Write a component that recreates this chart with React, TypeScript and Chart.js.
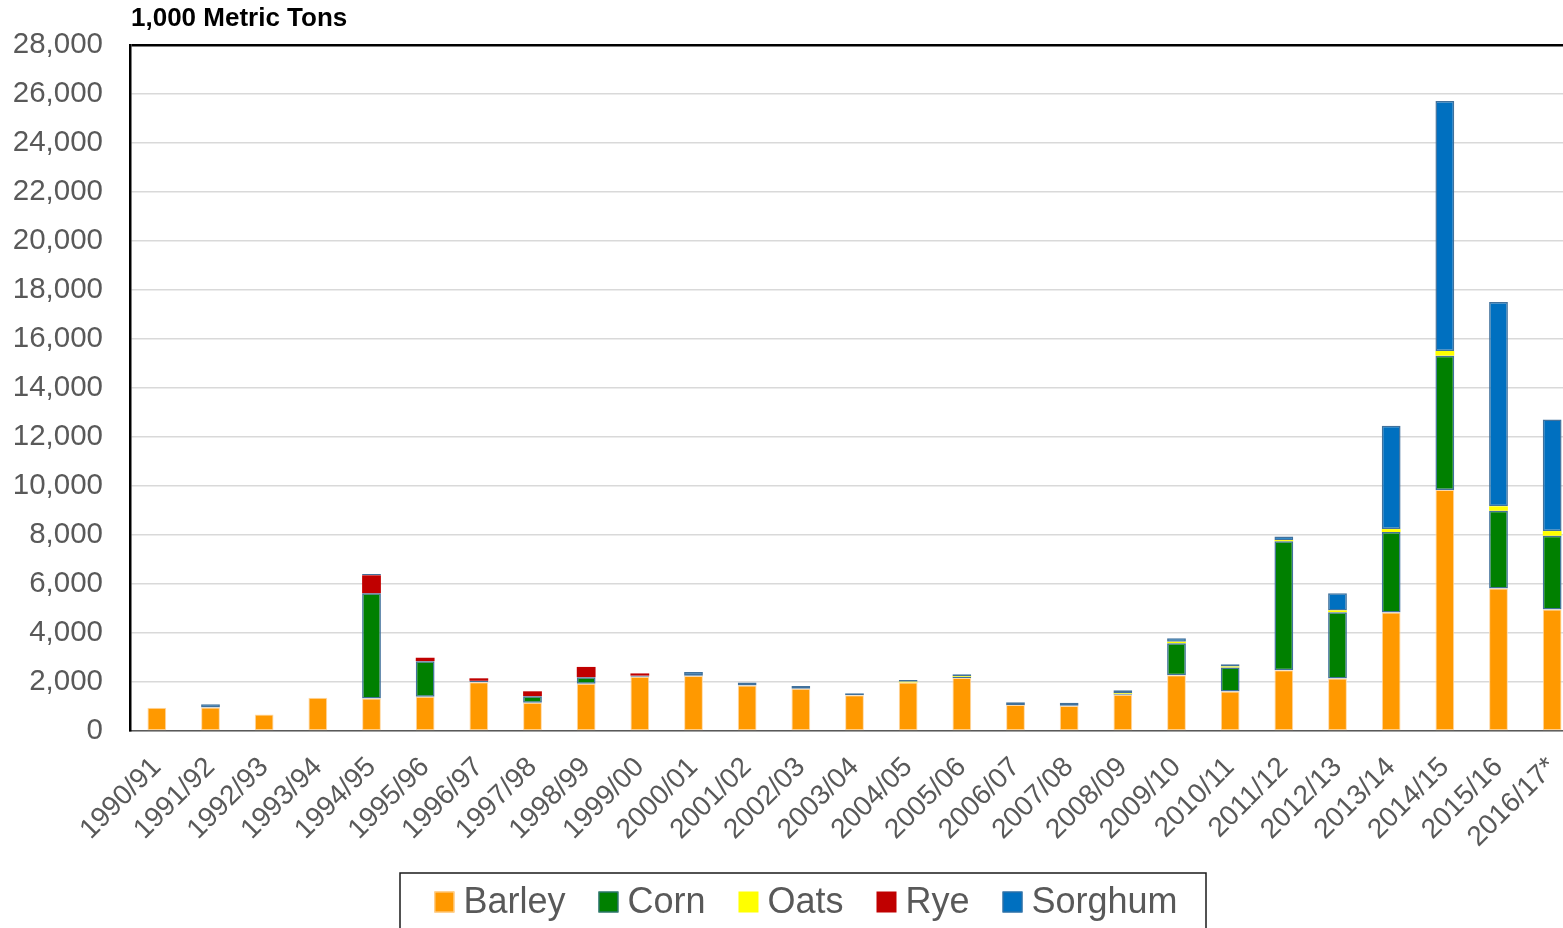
import { useEffect, useRef } from "react";
import { Chart, registerables } from "chart.js";

Chart.register(...registerables);

// Marketing years on the category axis
const seasons = [
  "1990/91", "1991/92", "1992/93", "1993/94", "1994/95", "1995/96", "1996/97",
  "1997/98", "1998/99", "1999/00", "2000/01", "2001/02", "2002/03", "2003/04",
  "2004/05", "2005/06", "2006/07", "2007/08", "2008/09", "2009/10", "2010/11",
  "2011/12", "2012/13", "2013/14", "2014/15", "2015/16", "2016/17*",
];

// Imports by grain, 1,000 metric tons
const barley = [
  950, 960, 670, 1355, 1330, 1400, 1990, 1150, 1925, 2210, 2240, 1860, 1720, 1460,
  1980, 2160, 1065, 1025, 1480, 2280, 1610, 2480, 2140, 4840, 9840, 5820, 4960,
];
const corn = [
  0, 0, 0, 0, 4290, 1450, 60, 270, 270, 50, 40, 0, 40, 0,
  0, 50, 0, 30, 40, 1300, 980, 5260, 2710, 3280, 5480, 3170, 3010,
];
const oats = [
  0, 0, 0, 0, 0, 0, 0, 0, 0, 0, 0, 0, 0, 0,
  30, 30, 0, 0, 30, 60, 40, 50, 70, 120, 190, 180, 190,
];
const rye = [
  0, 0, 0, 0, 735, 140, 100, 200, 420, 90, 0, 0, 0, 0,
  0, 0, 0, 0, 0, 0, 0, 0, 0, 0, 0, 0, 0,
];
const sorghum = [
  0, 130, 0, 0, 55, 0, 0, 0, 0, 0, 130, 120, 80, 80,
  70, 80, 110, 100, 110, 150, 90, 150, 700, 4220, 10200, 8340, 4550,
];

const seriesNames = ["Barley", "Corn", "Oats", "Rye", "Sorghum"];
const seriesValues = [barley, corn, oats, rye, sorghum];
const seriesFill = ["#FF9900", "#008000", "#FFFF00", "#C00000", "#0070C0"];
const seriesEdge = ["#FFD9A6", "#41719C", "#FFFF00", "#C00000", "#41719C"];
const seriesEdgeWidth = [1, 1.5, 0, 0, 1.5];

const yMax = 28000;
const yStep = 2000;
const unitTitle = "1,000 Metric Tons";

const FONT = '"Liberation Sans", Arial, sans-serif';
const TEXT_GREY = "#595959";

// Bold unit caption above the top-left corner of the plot
const unitTitlePlugin = {
  id: "unitTitle",
  afterDraw(chart: Chart) {
    const { ctx, chartArea } = chart;
    ctx.save();
    ctx.font = `bold 26px ${FONT}`;
    ctx.fillStyle = "#000";
    ctx.textAlign = "left";
    ctx.textBaseline = "alphabetic";
    ctx.fillText(unitTitle, chartArea.left + 1, 26);
    ctx.restore();
  },
};

// Framed legend row along the bottom edge
const framedLegendPlugin = {
  id: "framedLegend",
  afterDraw(chart: Chart) {
    const { ctx } = chart;
    ctx.save();
    ctx.font = `36px ${FONT}`;
    const box = 20;
    const textGap = 9;
    const itemGap = 33;
    const labels = chart.data.datasets.map((d) => String(d.label));
    const widths = labels.map((l) => ctx.measureText(l).width);
    const total =
      widths.reduce((s, w) => s + box + textGap + w, 0) + itemGap * (labels.length - 1);
    const center = chart.width / 2;
    const frameLeft = center - 403;
    const frameRight = center + 403;
    const frameTop = 873;
    ctx.strokeStyle = "#1a1a1a";
    ctx.lineWidth = 1.5;
    ctx.strokeRect(frameLeft, frameTop, frameRight - frameLeft, 80);

    let x = center + 3 - total / 2;
    const cy = 902;
    chart.data.datasets.forEach((d, i) => {
      ctx.fillStyle = d.backgroundColor as string;
      ctx.fillRect(x, cy - 10.5, box, 21);
      const ew = seriesEdgeWidth[i];
      if (ew > 0) {
        ctx.strokeStyle = d.borderColor as string;
        ctx.lineWidth = 1;
        ctx.strokeRect(x + 0.5, cy - 10, box - 1, 20);
      }
      x += box + textGap;
      ctx.fillStyle = TEXT_GREY;
      ctx.textAlign = "left";
      ctx.textBaseline = "middle";
      ctx.fillText(labels[i], x, cy + 1);
      x += widths[i] + itemGap;
    });
    ctx.restore();
  },
};

export default function App() {
  const canvasRef = useRef<HTMLCanvasElement | null>(null);

  useEffect(() => {
    const canvas = canvasRef.current;
    if (!canvas) return;
    const chart = new Chart(canvas, {
      type: "bar",
      data: {
        labels: seasons,
        datasets: seriesNames.map((name, i) => ({
          label: name,
          data: seriesValues[i],
          backgroundColor: seriesFill[i],
          borderColor: seriesEdge[i],
          borderWidth: seriesEdgeWidth[i],
          borderSkipped: false as const,
          barPercentage: 0.35,
          categoryPercentage: 1,
        })),
      },
      options: {
        responsive: false,
        animation: false,
        devicePixelRatio: 1,
        layout: { padding: { top: 45, left: 0, right: 27, bottom: 0 } },
        plugins: {
          legend: { display: false },
          tooltip: { enabled: false },
          title: { display: false },
        },
        scales: {
          x: {
            stacked: true,
            grid: { display: false, drawTicks: false },
            border: { color: TEXT_GREY, width: 1.5 },
            ticks: {
              minRotation: 45,
              maxRotation: 45,
              autoSkip: false,
              padding: 20,
              color: TEXT_GREY,
              font: { family: FONT, size: 28 },
            },
            afterFit(scale: any) {
              scale.height = 197;
            },
          },
          y: {
            stacked: true,
            min: 0,
            max: yMax,
            grid: {
              drawTicks: false,
              color: (c: any) => (c.tick && c.tick.value === yMax ? "#000" : "#D9D9D9"),
              lineWidth: (c: any) => (c.tick && c.tick.value === yMax ? 2.5 : 1.5),
            },
            border: { color: "#000", width: 2.5 },
            ticks: {
              stepSize: yStep,
              padding: 27,
              color: TEXT_GREY,
              font: { family: FONT, size: 29.5 },
              callback: (v: any) => Number(v).toLocaleString("en-US"),
            },
            afterFit(scale: any) {
              scale.width = 130;
            },
          },
        },
      },
      plugins: [unitTitlePlugin, framedLegendPlugin],
    });
    return () => chart.destroy();
  }, []);

  return (
    <div
      style={{
        position: "absolute",
        left: 0,
        top: 0,
        width: 1563,
        height: 928,
        overflow: "hidden",
        background: "#fff",
      }}
    >
      <canvas
        ref={canvasRef}
        width={1606}
        height={928}
        style={{ width: 1606, height: 928, display: "block" }}
      />
    </div>
  );
}
